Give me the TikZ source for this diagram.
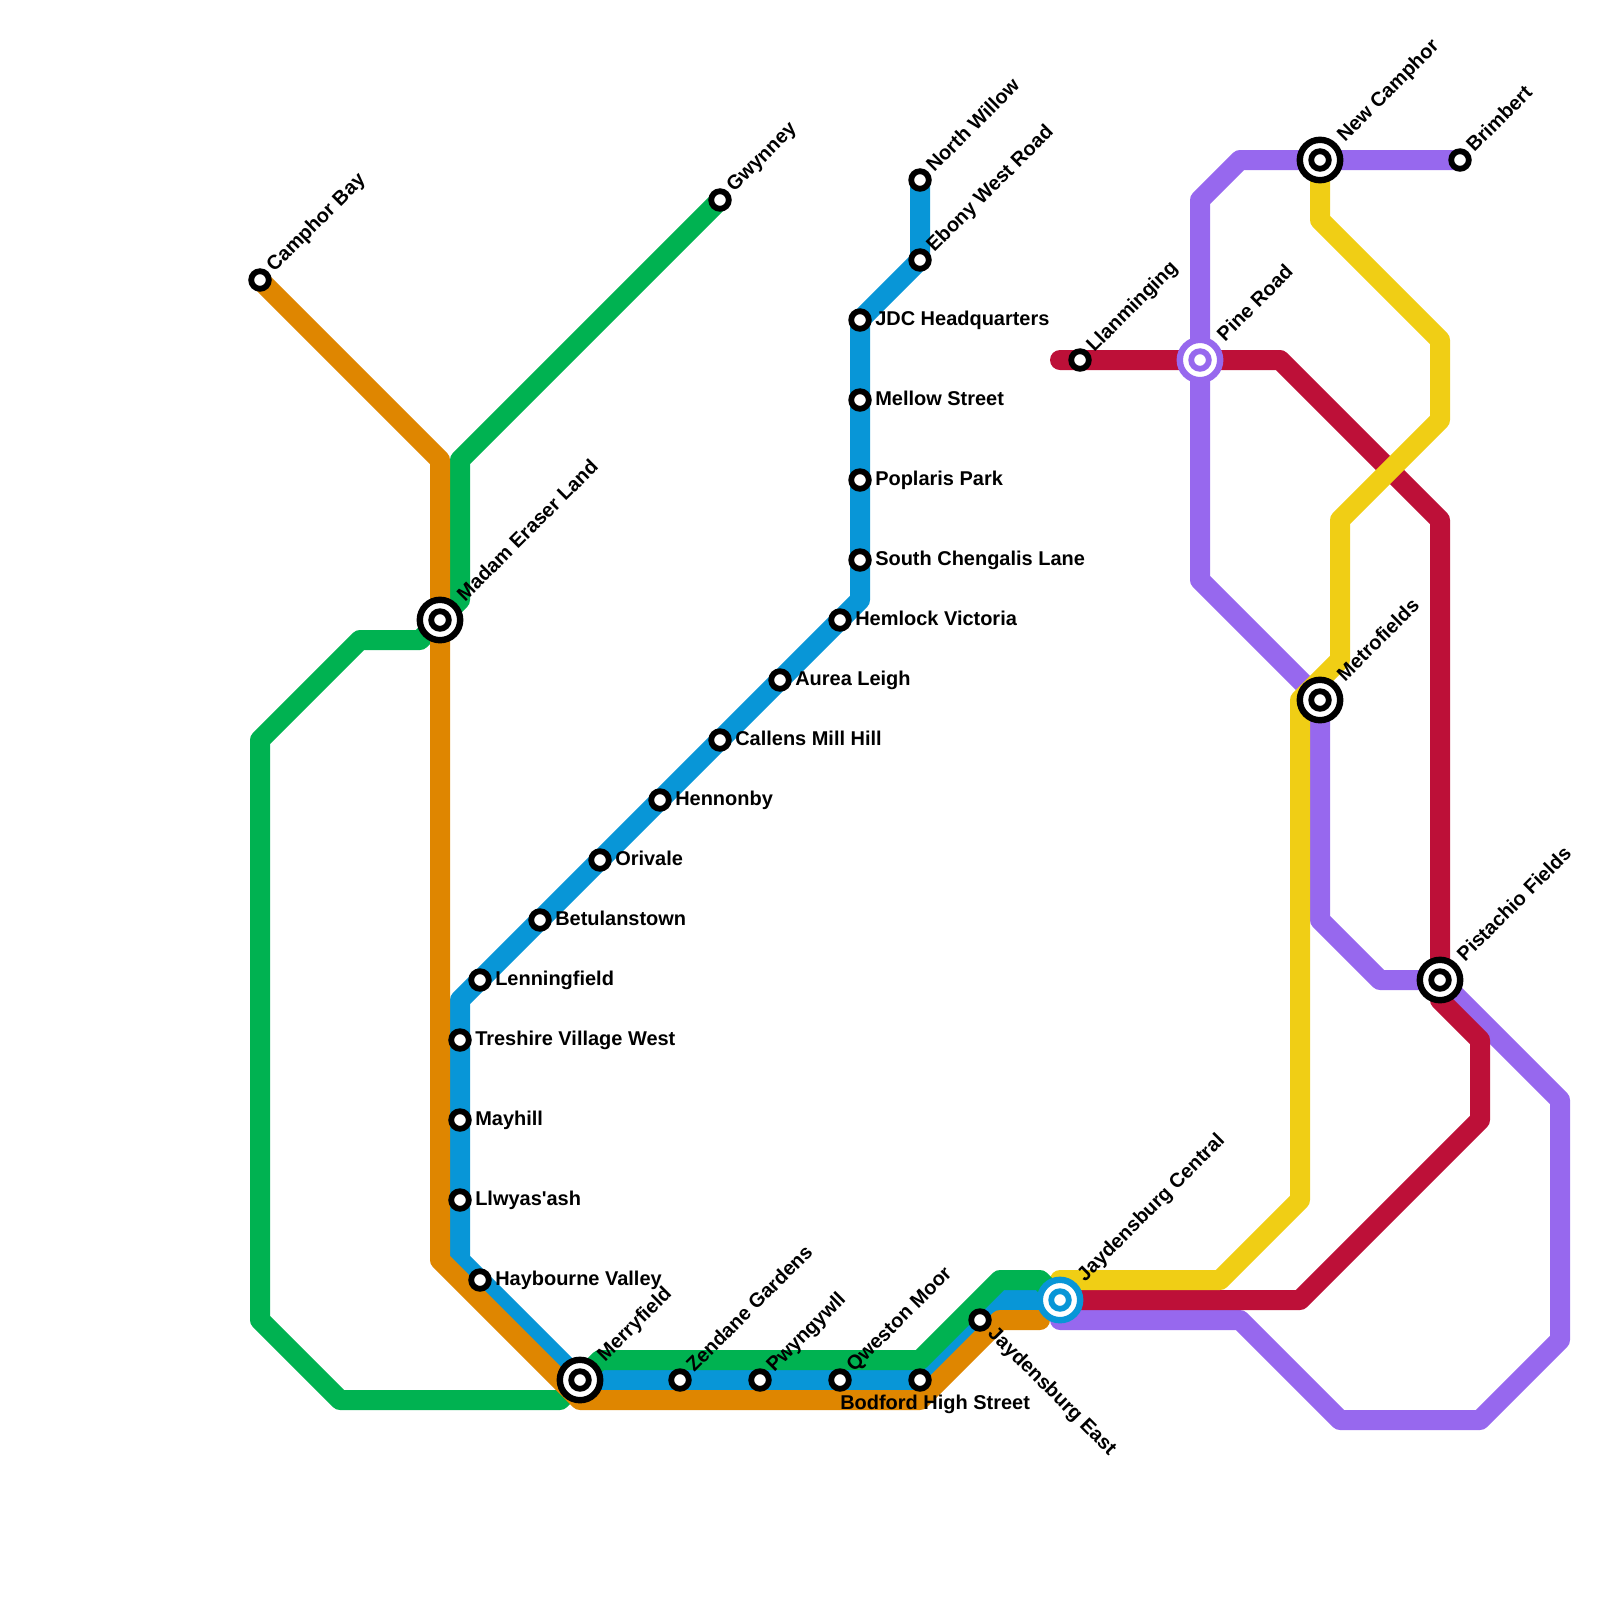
\documentclass[tikz,border=0pt]{standalone}
\usepackage{fontspec}
\setmainfont{Liberation Sans}[Ligatures=TeXOff]
\usepackage{tikz}
\definecolor{lineGreen}{HTML}{00B251}
\definecolor{lineOrange}{HTML}{DF8600}
\definecolor{lineBlue}{HTML}{0896D7}
\definecolor{lineRed}{HTML}{BD1038}
\definecolor{lineYellow}{HTML}{F0CE15}
\definecolor{linePurple}{HTML}{9768EE}
\tikzset{
  tube/.style={line width=0.5cm, line cap=round, line join=round},
  stop/.style={circle, draw=#1, fill=white, line width=0.145cm, minimum size=0.44cm, inner sep=0pt},
  stop/.default=black,
  hub/.style={circle, draw=#1, fill=white, line width=0.16cm, minimum size=1.01cm, inner sep=0pt},
  hub/.default=black,
  stnText/.style={font=\fontsize{14.2}{16}\selectfont\bfseries, inner sep=0pt, anchor=base west},
  stnR/.style={stnText, xshift=0.375cm, yshift=-0.13cm},
  stnU/.style={stnText, rotate=45, xshift=0.375cm, yshift=-0.13cm},
  stnD/.style={stnText, rotate=-45, xshift=0.375cm, yshift=-0.13cm},
  stnH/.style={stnText, rotate=45, xshift=0.75cm, yshift=-0.13cm},
}
\begin{document}
\begin{tikzpicture}[x=0.5cm, y=-0.5cm]
  \useasboundingbox (0,0) rectangle (80,80);

  % stations on the grid
  \coordinate (camphorbay) at (13,14);
  \coordinate (gwynney) at (36,10);
  \coordinate (madam) at (22,31);
  \coordinate (merryfield) at (29,69);
  \coordinate (bodford) at (46,69);
  \coordinate (central) at (53,65);
  \coordinate (northwillow) at (46,9);
  \coordinate (ebony) at (46,13);
  \coordinate (jdc) at (43,16);
  \coordinate (hemlock) at (42,31);
  \coordinate (llanminging) at (54,18);
  \coordinate (pineroad) at (60,18);
  \coordinate (newcamphor) at (66,8);
  \coordinate (brimbert) at (73,8);
  \coordinate (metrofields) at (66,35);
  \coordinate (pistachio) at (72,49);

  % lines
  \draw[tube, linePurple] (brimbert) -- (newcamphor) -- (62,8) -- (60,10) -- (pineroad) -- (60,29) -- (metrofields)
    -- (66,46) -- (69,49) -- (pistachio) -- (78,55) -- (78,67) -- (74,71) -- (67,71) -- (62,66) -- (53,66);
  \draw[tube, lineRed] (53,18) -- (pineroad) -- (64,18) -- (72,26) -- (pistachio) -- (72,50) -- (74,52) -- (74,56) -- (65,65) -- (central);
  \draw[tube, lineYellow] (newcamphor) -- (66,11) -- (72,17) -- (72,21) -- (67,26) -- (67,33) -- (65,35) -- (65,60) -- (61,64) -- (53,64);
  \draw[tube, lineBlue] (northwillow) -- (ebony) -- (jdc) -- (43,30) -- (hemlock) -- (23,50) -- (23,63) -- (merryfield) -- (bodford) -- (50,65) -- (central);
  \draw[tube, lineGreen] (gwynney) -- (23,23) -- (23,30) -- (madam) -- (21,32) -- (18,32) -- (13,37) -- (13,66) -- (17,70) -- (28,70)
    -- (merryfield) -- (30,68) -- (46,68) -- (50,64) -- (52,64) -- (central);
  \draw[tube, lineOrange] (camphorbay) -- (22,23) -- (22,63) -- (29,70) -- (46,70) -- (50,66) -- (52,66);

  % interchanges
  \node[hub] (madamhub) at (madam) {};
  \node[hub] (merryfieldhub) at (merryfield) {};
  \node[hub=lineBlue] (centralhub) at (central) {};
  \node[hub=linePurple] (pineroadhub) at (pineroad) {};
  \node[hub] (newcamphorhub) at (newcamphor) {};
  \node[hub] (metrofieldshub) at (metrofields) {};
  \node[hub] (pistachiohub) at (pistachio) {};

  % stops
  \node[stop] (camphorbaystop) at (camphorbay) {};
  \node[stop] (gwynneystop) at (gwynney) {};
  \node[stop] (madamstop) at (madam) {};
  \node[stop] (merryfieldstop) at (merryfield) {};
  \node[stop=lineBlue] (centralstop) at (central) {};
  \node[stop=linePurple] (pineroadstop) at (pineroad) {};
  \node[stop] (newcamphorstop) at (newcamphor) {};
  \node[stop] (metrofieldsstop) at (metrofields) {};
  \node[stop] (pistachiostop) at (pistachio) {};
  \node[stop] (brimbertstop) at (brimbert) {};
  \node[stop] (llanmingingstop) at (llanminging) {};
  \node[stop] (northwillowstop) at (northwillow) {};
  \node[stop] (ebonystop) at (ebony) {};
  \node[stop] (jdcstop) at (jdc) {};
  \node[stop] (mellowstop) at (43,20) {};
  \node[stop] (poplarisstop) at (43,24) {};
  \node[stop] (chengalisstop) at (43,28) {};
  \node[stop] (hemlockstop) at (hemlock) {};
  \node[stop] (aureastop) at (39,34) {};
  \node[stop] (callensstop) at (36,37) {};
  \node[stop] (hennonbystop) at (33,40) {};
  \node[stop] (orivalestop) at (30,43) {};
  \node[stop] (betulanstop) at (27,46) {};
  \node[stop] (lenningstop) at (24,49) {};
  \node[stop] (treshirestop) at (23,52) {};
  \node[stop] (mayhillstop) at (23,56) {};
  \node[stop] (llwyasstop) at (23,60) {};
  \node[stop] (haybournestop) at (24,64) {};
  \node[stop] (zendanestop) at (34,69) {};
  \node[stop] (pwyngywllstop) at (38,69) {};
  \node[stop] (qwestonstop) at (42,69) {};
  \node[stop] (bodfordstop) at (bodford) {};
  \node[stop] (jayeaststop) at (49,66) {};

  % station names
  \node[stnU] (camphorbayname) at (camphorbay) {Camphor Bay};
  \node[stnU] (gwynneyname) at (gwynney) {Gwynney};
  \node[stnH] (madamname) at (madam) {Madam Eraser Land};
  \node[stnH] (merryfieldname) at (merryfield) {Merryfield};
  \node[stnH] (centralname) at (central) {Jaydensburg Central};
  \node[stnH] (pineroadname) at (pineroad) {Pine Road};
  \node[stnH] (newcamphorname) at (newcamphor) {New Camphor};
  \node[stnH] (metrofieldsname) at (metrofields) {Metrofields};
  \node[stnH] (pistachioname) at (pistachio) {Pistachio Fields};
  \node[stnU] (brimbertname) at (brimbert) {Brimbert};
  \node[stnU] (llanmingingname) at (llanminging) {Llanminging};
  \node[stnU] (northwillowname) at (northwillow) {North Willow};
  \node[stnU] (ebonyname) at (ebony) {Ebony West Road};
  \node[stnR] (jdcname) at (jdc) {JDC Headquarters};
  \node[stnR] (mellowname) at (43,20) {Mellow Street};
  \node[stnR] (poplarisname) at (43,24) {Poplaris Park};
  \node[stnR] (chengalisname) at (43,28) {South Chengalis Lane};
  \node[stnR] (hemlockname) at (hemlock) {Hemlock Victoria};
  \node[stnR] (aureaname) at (39,34) {Aurea Leigh};
  \node[stnR] (callensname) at (36,37) {Callens Mill Hill};
  \node[stnR] (hennonbyname) at (33,40) {Hennonby};
  \node[stnR] (orivalename) at (30,43) {Orivale};
  \node[stnR] (betulanname) at (27,46) {Betulanstown};
  \node[stnR] (lenningname) at (24,49) {Lenningfield};
  \node[stnR] (treshirename) at (23,52) {Treshire Village West};
  \node[stnR] (mayhillname) at (23,56) {Mayhill};
  \node[stnR] (llwyasname) at (23,60) {Llwyas'ash};
  \node[stnR] (haybournename) at (24,64) {Haybourne Valley};
  \node[stnU] (zendanename) at (34,69) {Zendane Gardens};
  \node[stnU] (pwyngywllname) at (38,69) {Pwyngywll};
  \node[stnU] (qwestonname) at (42,69) {Qweston Moor};
  \node[stnText, xshift=-2cm, yshift=-0.725cm] (bodfordname) at (bodford) {Bodford High Street};
  \node[stnD] (jayeastname) at (49,66) {Jaydensburg East};
\end{tikzpicture}
\end{document}
